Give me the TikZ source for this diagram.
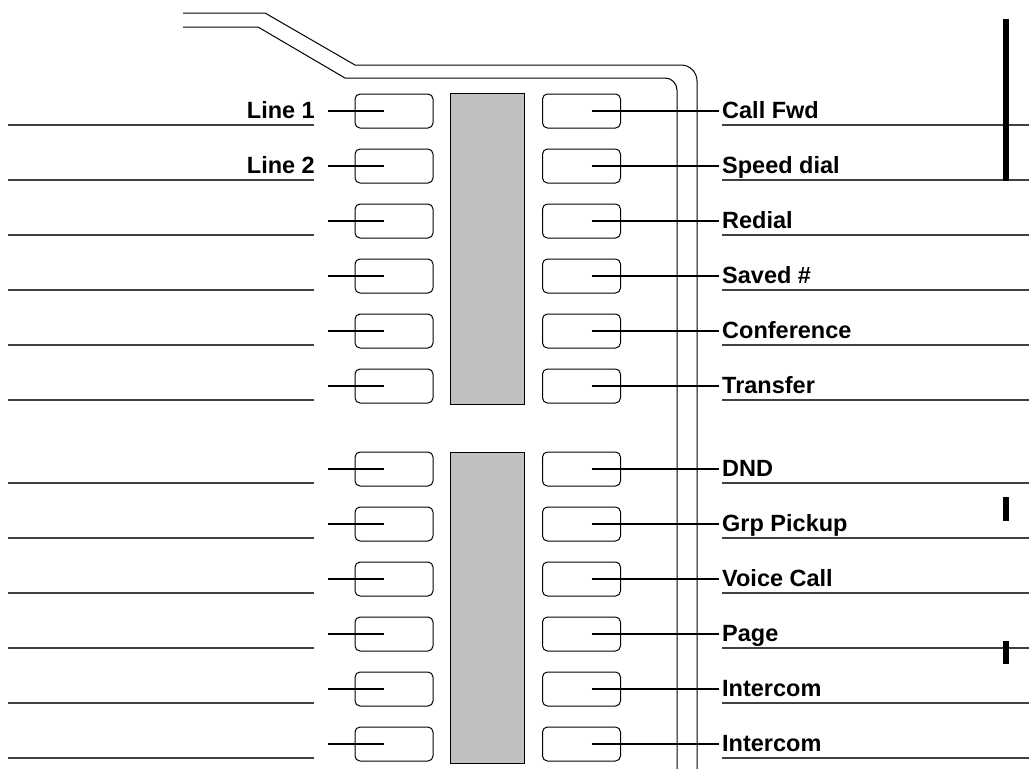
\documentclass[tikz,border=0pt]{standalone}
\usepackage{fontspec}
\setmainfont{Liberation Sans}
\definecolor{panelgray}{RGB}{192,192,192}

\begin{document}
\begin{tikzpicture}[x=1pt, y=-1pt,
		key/.style={draw, rounded corners=5pt, minimum width=78pt, minimum height=34pt, line width=1pt},
		lamp/.style={draw, fill=panelgray, line width=1pt},
		keylabel/.style={font=\fontsize{23.5}{28}\selectfont\bfseries, inner sep=3pt},
		wire/.style={line width=1.1pt},
		rule/.style={line width=1.5pt, black!75},
		cord/.style={line width=1pt}]
	\useasboundingbox (0,0) rectangle (1029,769);
	% handset cord
	\draw[cord] (183,13) -- (265,13) -- (355,65) -- (681,65) arc[start angle=-90, end angle=0, radius=16] -- (697,769);
	\draw[cord] (183,27) -- (258,27) -- (345,78) -- (665,78) arc[start angle=-90, end angle=0, radius=12] -- (677,769);
	% lamp strips
	\draw[lamp] (450,93) rectangle (524,404);
	\draw[lamp] (450,452) rectangle (524,763);
	% keys
	\foreach \y [count=\i] in {111,166,221,276,331,386,469,524,579,634,689,744} {
		\node[key] (L\i) at (394,\y) {};
		\node[key] (R\i) at (581.5,\y) {};
		\coordinate (l\i) at (328,\y);
		\draw[wire] (l\i) -- ([xshift=-10pt]L\i.center);
		\draw[rule] (8,\y+14) -- (314,\y+14);
		\draw[rule] (722,\y+14) -- (1029,\y+14);
	}
	\node[keylabel, anchor=base east] (line1) at (318,118) {Line 1};
	\node[keylabel, anchor=base east] (line2) at (318,173) {Line 2};
	\foreach \y/\txt [count=\i] in {111/Call Fwd, 166/Speed dial, 221/Redial, 276/Saved \#, 331/Conference, 386/Transfer,
		469/DND, 524/Grp Pickup, 579/Voice Call, 634/Page, 689/Intercom, 744/Intercom} {
		\node[keylabel, anchor=base west] (c\i) at (719,\y+7) {\txt};
		\draw[wire] ([xshift=10pt]R\i.center) -- (c\i.west |- R\i);
	}
	% margin bars
	\fill (1003,19) rectangle (1009,181);
	\fill (1003,497) rectangle (1009,521);
	\fill (1003,641) rectangle (1009,664);
\end{tikzpicture}
\end{document}
